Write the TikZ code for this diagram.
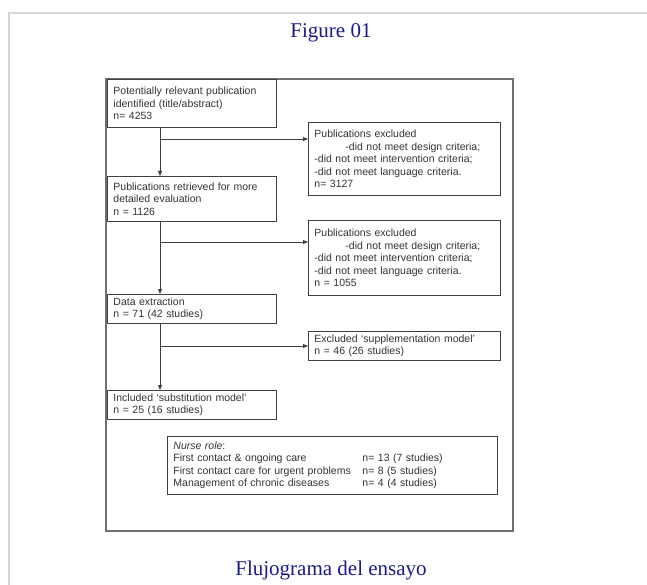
\documentclass[tikz,border=0pt]{standalone}
\usepackage{fontspec}
\setmainfont{Liberation Serif}
\newfontfamily\boxfont{Liberation Sans}
\usetikzlibrary{arrows.meta,positioning,calc}
\definecolor{navy}{RGB}{26,26,140}
\definecolor{ink}{HTML}{333333}
\definecolor{edge}{HTML}{404040}
\definecolor{frameln}{HTML}{707070}
\definecolor{pagegray}{HTML}{D6D6D6}
\tikzset{
  box/.style={draw=edge,line width=0.9pt,anchor=north west,align=left,
    inner xsep=6pt,inner ysep=0pt,text=ink,
    font=\boxfont\fontsize{10.5}{12.6}\selectfont},
  title/.style={text=navy,font=\fontsize{21}{24}\selectfont,anchor=base,inner sep=0pt},
  arr/.style={-{Triangle[length=5pt,width=4pt]},line width=0.9pt,draw=edge},
}
\begin{document}
\begin{tikzpicture}[x=1pt,y=-1pt]
    \useasboundingbox (0,0) rectangle (647,585);
    % page frame
    \draw[pagegray,line width=1.8pt] (9,585) -- (9,13) -- (647,13);
    \node[title] (fig) at (331,38) {Figure 01};
    \node[title] (cap) at (331,575) {Flujograma del ensayo};
    % outer box
    \draw[frameln,line width=1.1pt] (106,79) rectangle (513,531);
    % flow boxes
    \node[box,text width=157pt,minimum height=48pt] (found) at (107,79)
      {Potentially relevant publication\\identified (title/abstract)\\n= 4253};
    \node[box,text width=180pt,minimum height=73pt] (excl1) at (308,122)
      {Publications excluded\\\hspace*{31pt}-did not meet design criteria;\\-did not meet intervention criteria;\\-did not meet language criteria.\\n= 3127};
    \node[box,text width=157pt,minimum height=45pt] (retr) at (107,176)
      {Publications retrieved for more\\detailed evaluation\\n = 1126};
    \node[box,text width=180pt,minimum height=75pt] (excl2) at (308,220)
      {Publications excluded\\\hspace*{31pt}-did not meet design criteria;\\-did not meet intervention criteria;\\-did not meet language criteria.\\n = 1055};
    \node[box,text width=157pt,minimum height=29pt] (extr) at (107,294)
      {Data extraction\\n = 71 (42 studies)};
    \node[box,text width=180pt,minimum height=29pt] (excl3) at (308,331)
      {Excluded ‘supplementation model’\\n = 46 (26 studies)};
    \node[box,text width=157pt,minimum height=29pt] (incl) at (107,390)
      {Included ‘substitution model’\\n = 25 (16 studies)};
    \node[box,text width=318pt,minimum height=58pt] (nurse) at (167,436)
      {\begin{tabular}{@{}p{189pt}@{}l@{}}
        \textit{Nurse role}: & \\
        First contact \& ongoing care & n= 13 (7 studies)\\
        First contact care for urgent problems & n= 8 (5 studies)\\
        Management of chronic diseases & n= 4 (4 studies)
      \end{tabular}};
    % connectors
    \coordinate (spine) at (160,0);
    \coordinate (br1) at (160,139);
    \coordinate (br2) at (160,242);
    \coordinate (br3) at (160,346);
    \draw[arr] (spine |- found.south) -- (spine |- retr.north);
    \draw[arr] (spine |- retr.south) -- (spine |- extr.north);
    \draw[arr] (spine |- extr.south) -- (spine |- incl.north);
    \draw[arr] (br1) -- (br1 -| excl1.west);
    \draw[arr] (br2) -- (br2 -| excl2.west);
    \draw[arr] (br3) -- (br3 -| excl3.west);
\end{tikzpicture}
\end{document}
